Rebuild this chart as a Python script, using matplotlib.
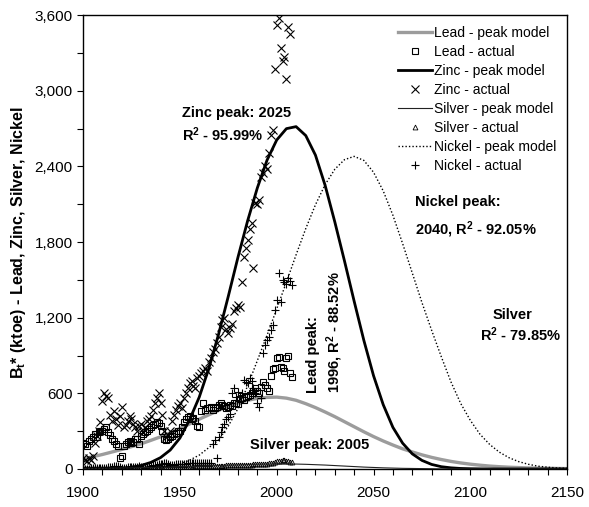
import numpy as np
import matplotlib
matplotlib.use("Agg")
import matplotlib.pyplot as plt
from matplotlib.ticker import MultipleLocator, StrMethodFormatter

plt.rcParams["font.family"] = "Liberation Sans"
plt.rcParams["mathtext.fontset"] = "custom"
plt.rcParams["mathtext.rm"] = "Liberation Sans"
plt.rcParams["mathtext.bf"] = "Liberation Sans:bold"
plt.rcParams["mathtext.default"] = "bf"

# peak model curves, read every 5 years (1900..2150)
model_years = np.arange(1900, 2151, 5)
lead_model = [80, 97, 115, 135, 155, 177, 200, 227, 255, 287,
              320, 357, 395, 430, 465, 497, 525, 545, 560, 568,
              570, 562, 545, 518, 487, 452, 415, 375, 335, 295,
              257, 222, 190, 160, 135, 112, 92, 75, 60, 48,
              38, 30, 23, 18, 14, 11, 8, 6, 5, 4, 3]
zinc_model = [0, 0, 1, 3, 6, 14, 28, 52, 90, 150,
              245, 390, 570, 800, 1070, 1370, 1680, 1970, 2230, 2450,
              2610, 2700, 2716, 2645, 2490, 2250, 1960, 1650, 1330, 1020,
              740, 510, 330, 205, 120, 68, 36, 18, 9, 4,
              2, 1, 0, 0, 0, 0, 0, 0, 0, 0, 0]
silver_model = [3, 4, 5, 6, 7, 8, 10, 11, 13, 15,
                17, 19, 22, 24, 27, 30, 32, 35, 37, 39,
                40, 40, 39, 37, 34, 31, 27, 23, 19, 15,
                12, 9, 7, 5, 4, 3, 2, 1, 1, 1,
                0, 0, 0, 0, 0, 0, 0, 0, 0, 0, 0]
nickel_model = [0, 0, 0, 0, 0, 1, 2, 5, 10, 22,
                40, 70, 110, 170, 230, 340, 480, 660, 860, 1060,
                1270, 1482, 1699, 1907, 2096, 2256, 2378, 2454, 2480, 2448,
                2354, 2206, 2013, 1789, 1555, 1320, 1100, 890, 690, 520,
                385, 275, 194, 133, 89, 58, 37, 22, 14, 8, 5]

# actual data
lead_years = np.arange(1900, 2009)
lead_actual = [210, 195, 185, 220, 240, 255, 275, 250, 290, 300,
               305, 320, 330, 290, 270, 240, 220, 200, 180, 85,
               100, 180, 200, 215, 225, 205, 215, 235, 240, 200,
               260, 275, 290, 300, 320, 335, 350, 360, 370, 365,
               340, 300, 240, 230, 240, 250, 265, 275, 285, 300,
               300, 330, 370, 400, 410, 420, 395, 405, 380, 340,
               330, 460, 520, 470, 480, 480, 490, 470, 485, 495,
               505, 520, 510, 500, 480, 495, 505, 500, 525, 520,
               515, 555, 560, 545, 570, 575, 590, 600, 615, 640,
               620, 600, 650, 690, 670, 640, 620, 740, 790, 800,
               880, 890, 810, 800, 780, 880, 900, 760, 730]
zinc_years = np.arange(1900, 2008)
zinc_actual = [90, 70, 60, 85, 75, 100, 210, 260, 300, 370,
               540, 600, 580, 560, 430, 380, 460, 400, 350, 420,
               490, 330, 350, 380, 420, 400, 360, 330, 300, 340,
               360, 290, 330, 380, 400, 420, 470, 520, 560, 600,
               520, 430, 300, 250, 270, 300, 380, 430, 470, 500,
               520, 480, 560, 600, 640, 680, 700, 660, 640, 720,
               740, 760, 780, 800, 780, 850, 880, 930, 950, 1000,
               1050, 1130, 1180, 1200, 1110, 1080, 1120, 1150, 1250, 1280,
               1300, 1285, 1480, 1680, 1750, 1820, 1900, 1950, 1595, 2110,
               2100, 2130, 2320, 2350, 2400, 2380, 2505, 2650, 2690, 3172,
               3520, 3575, 3340, 3235, 3270, 3093, 3508, 3450]
silver_years = np.arange(1900, 2009)
silver_actual = [5, 5, 6, 6, 6, 7, 7, 7, 8, 8,
                 8, 9, 9, 9, 8, 8, 9, 9, 10, 10,
                 10, 10, 11, 11, 11, 12, 12, 12, 13, 13,
                 12, 11, 11, 12, 13, 14, 15, 15, 16, 16,
                 16, 16, 15, 14, 13, 13, 14, 14, 15, 15,
                 16, 16, 17, 17, 18, 18, 19, 19, 20, 20,
                 21, 21, 22, 22, 23, 23, 24, 24, 25, 25,
                 26, 26, 27, 27, 28, 28, 29, 29, 30, 30,
                 31, 31, 32, 32, 33, 34, 35, 35, 36, 36,
                 37, 38, 38, 39, 40, 42, 44, 46, 50, 55,
                 60, 62, 65, 68, 70, 66, 62, 58, 55]
nickel_years = np.arange(1900, 2009)
nickel_actual = [2, 2, 3, 3, 4, 4, 5, 5, 6, 6,
                 8, 9, 10, 12, 13, 15, 20, 22, 24, 18,
                 8, 6, 8, 12, 12, 14, 14, 15, 18, 22,
                 18, 14, 8, 12, 18, 24, 28, 32, 34, 38,
                 40, 42, 44, 45, 42, 35, 28, 32, 36, 38,
                 40, 40, 42, 42, 44, 44, 45, 46, 46, 48,
                 48, 50, 50, 50, 50, 50, 50, 200, 230, 87,
                 255, 290, 330, 360, 400, 415, 440, 600, 640, 570,
                 610, 580, 600, 705, 690, 680, 718, 700, 640, 600,
                 523, 495, 560, 920, 980, 1023, 1050, 1100, 1142, 1260,
                 1340, 1554, 1325, 1500, 1480, 1470, 1515, 1490, 1460]

fig, ax = plt.subplots(figsize=(5.89, 5.07), dpi=100)
fig.subplots_adjust(left=0.141, right=0.963, top=0.970, bottom=0.075)

l_lead, = ax.plot(model_years, lead_model, color="#9c9c9c", lw=2.4, zorder=2)
m_lead, = ax.plot(lead_years, lead_actual, ls="none", marker="s", ms=5,
                  mfc="none", mec="black", mew=0.8, zorder=3)
m_zinc, = ax.plot(zinc_years, zinc_actual, ls="none", marker="x", ms=5.5,
                  mec="black", mew=0.8, zorder=3)
m_silver, = ax.plot(silver_years, silver_actual, ls="none", marker="^", ms=3.5,
                    mfc="none", mec="black", mew=0.6, zorder=3)
m_nickel, = ax.plot(nickel_years, nickel_actual, ls="none", marker="+", ms=6,
                    mec="black", mew=0.8, zorder=3)
l_zinc, = ax.plot(model_years, zinc_model, color="black", lw=2.0, zorder=4)
l_silver, = ax.plot(model_years, silver_model, color="#222222", lw=0.8, zorder=4)
l_nickel, = ax.plot(model_years, nickel_model, color="black", lw=1.0,
                    ls=(0, (1, 1.5)), zorder=4)

ax.set_xlim(1900, 2150)
ax.set_ylim(0, 3600)
ax.xaxis.set_major_locator(MultipleLocator(50))
ax.xaxis.set_minor_locator(MultipleLocator(10))
ax.yaxis.set_major_locator(MultipleLocator(600))
ax.yaxis.set_minor_locator(MultipleLocator(300))
ax.yaxis.set_major_formatter(StrMethodFormatter("{x:,.0f}"))
ax.tick_params(which="both", direction="out", length=4, width=0.8, labelsize=11)
ax.tick_params(axis="x", pad=8)
for s in ax.spines.values():
    s.set_linewidth(1.0)

ax.set_ylabel(r"B$_t$* (ktoe) - Lead, Zinc, Silver, Nickel", fontsize=11.5,
              fontweight="bold", labelpad=5)

handles = [l_lead, m_lead, l_zinc, m_zinc, l_silver, m_silver, l_nickel, m_nickel]
labels = ["Lead - peak model", "Lead - actual", "Zinc - peak model", "Zinc - actual",
          "Silver - peak model", "Silver - actual", "Nickel - peak model", "Nickel - actual"]
ax.legend(handles, labels, loc="upper right", frameon=False, fontsize=10,
          handlelength=2.4, handletextpad=0.15, labelspacing=0.36,
          borderaxespad=0.4, numpoints=1)

bold = dict(fontsize=10.5, fontweight="bold")
ax.text(1951, 2823, "Zinc peak: 2025", va="center", ha="left", **bold)
ax.text(1951, 2649, r"R$^2$ - 95.99%", va="center", ha="left", **bold)
ax.text(2071.6, 2117, "Nickel peak:", va="center", ha="left", **bold)
ax.text(2071.6, 1895, r"2040, R$^2$ - 92.05%", va="center", ha="left", **bold)
ax.text(2122, 1221, "Silver", va="center", ha="center", **bold)
ax.text(2126, 1063, r"R$^2$ - 79.85%", va="center", ha="center", **bold)
ax.text(2025, 603, "Lead peak:\n" + r"1996, R$^2$ - 88.52%", rotation=90,
        va="bottom", ha="center", multialignment="left", linespacing=1.3, **bold)
ax.text(1986.3, 190, "Silver peak: 2005", va="center", ha="left", **bold)

plt.savefig("out.png", dpi=100)
